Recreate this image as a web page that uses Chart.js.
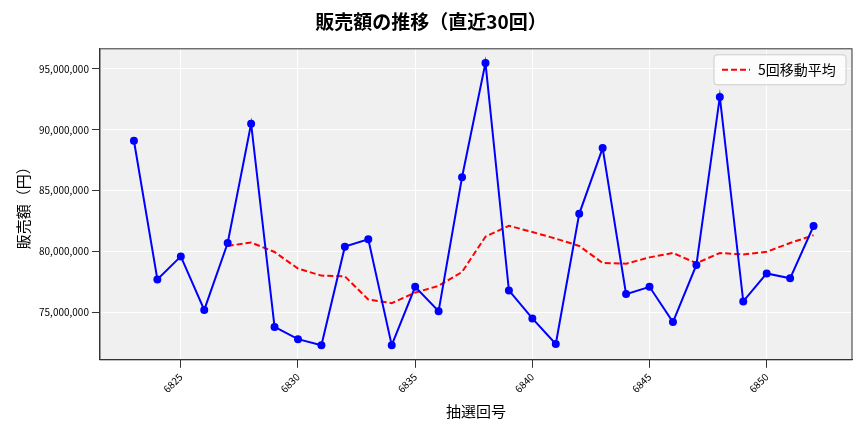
<!DOCTYPE html>
<html><head><meta charset="utf-8">
<script src="https://cdn.jsdelivr.net/npm/chart.js@4"></script>
<style>body{margin:0;background:#fff}#wrap{width:864px;height:432px}</style>
</head><body><div id="wrap"><canvas id="plot1"></canvas></div>
<script>
const kaigo = [6823,6824,6825,6826,6827,6828,6829,6830,6831,6832,6833,6834,6835,6836,6837,6838,6839,6840,6841,6842,6843,6844,6845,6846,6847,6848,6849,6850,6851,6852]
const uriage = [89.1,77.7,79.6,75.2,80.7,90.5,73.8,72.8,72.3,80.4,81.0,72.3,77.1,75.1,86.1,95.5,76.8,74.5,72.4,83.1,88.5,76.5,77.1,74.2,78.9,92.7,75.9,78.2,77.8,82.1]
const idoHeikin = [null,null,null,null,80.46,80.74,79.96,78.6,78.02,77.96,76.06,75.76,76.62,77.18,78.32,81.22,82.12,81.6,81.06,80.46,79.06,79.0,79.52,79.88,79.04,79.88,79.76,79.98,80.7,81.34]
const xTicks = [6825,6830,6835,6840,6845,6850]
const yTicks = [75,80,85,90,95]

const FONT = "'Noto Sans CJK JP', 'Noto Sans', sans-serif"
const toPts = arr => kaigo.map((k, i) => ({x: k, y: arr[i] == null ? null : arr[i] * 1e6}))

const fondo = {
    id: 'fondo',
    beforeDraw(chart) {
        const {ctx, chartArea: a} = chart
        ctx.save()
        ctx.fillStyle = '#f0f0f0'
        ctx.fillRect(a.left, a.top, a.right - a.left, a.bottom - a.top)
        ctx.restore()
    },
    afterDraw(chart) {
        const {ctx, chartArea: a} = chart
        ctx.save()
        ctx.strokeStyle = '#333'; ctx.lineWidth = 1
        ctx.strokeRect(a.left, a.top, a.right - a.left, a.bottom - a.top)
        const x = a.right - 138, y = a.top + 6, w = 132, h = 30
        ctx.fillStyle = 'rgba(255,255,255,0.8)'
        ctx.strokeStyle = '#cccccc'
        ctx.beginPath(); ctx.roundRect(x, y, w, h, 3); ctx.fill(); ctx.stroke()
        ctx.strokeStyle = 'red'; ctx.lineWidth = 2; ctx.setLineDash([6, 3])
        ctx.beginPath(); ctx.moveTo(x + 8, y + 15); ctx.lineTo(x + 36, y + 15); ctx.stroke()
        ctx.setLineDash([])
        ctx.fillStyle = '#000'; ctx.font = '14px ' + FONT; ctx.textBaseline = 'middle'
        ctx.fillText('5回移動平均', x + 44, y + 15)
        ctx.restore()
    }
}

new Chart(document.getElementById('plot1'), {
    type: 'line',
    data: {
        datasets: [{
            data: toPts(uriage),
            borderColor: '#0000ff', backgroundColor: '#0000ff',
            borderWidth: 2, pointRadius: 3, tension: 0
        }, {
            data: toPts(idoHeikin),
            borderColor: '#ff0000', borderDash: [6, 3],
            borderWidth: 2, pointRadius: 0, tension: 0, spanGaps: false
        }]
    },
    plugins: [fondo],
    options: {
        animation: false, responsive: true, maintainAspectRatio: false,
        layout: {padding: {right: 12, left: 10, bottom: 8}},
        plugins: {
            legend: {display: false},
            title: {display: true, text: '販売額の推移（直近30回）', color: '#000',
                font: {family: FONT, size: 19, weight: 'bold'}, padding: {top: 10, bottom: 16}}
        },
        scales: {
            x: {
                type: 'linear', min: 6821.55, max: 6853.64,
                afterBuildTicks: ax => { ax.ticks = xTicks.map(v => ({value: v})) },
                grid: {color: '#ffffff', lineWidth: 1, tickColor: '#333'},
                border: {color: '#333'},
                ticks: {maxRotation: 45, minRotation: 45, color: '#000', font: {family: FONT, size: 10}, callback: v => String(v)},
                title: {display: true, text: '抽選回号', color: '#000', font: {family: FONT, size: 15}, padding: {top: 4}}
            },
            y: {
                min: 71.1e6, max: 96.66e6,
                afterBuildTicks: ax => { ax.ticks = yTicks.map(v => ({value: v * 1e6})) },
                grid: {color: '#ffffff', lineWidth: 1, tickColor: '#333'},
                border: {color: '#333'},
                ticks: {color: '#000', font: {family: FONT, size: 10}, callback: v => v.toLocaleString('en-US')},
                title: {display: true, text: '販売額（円）', color: '#000', font: {family: FONT, size: 15}}
            }
        }
    }
})
</script></body></html>
